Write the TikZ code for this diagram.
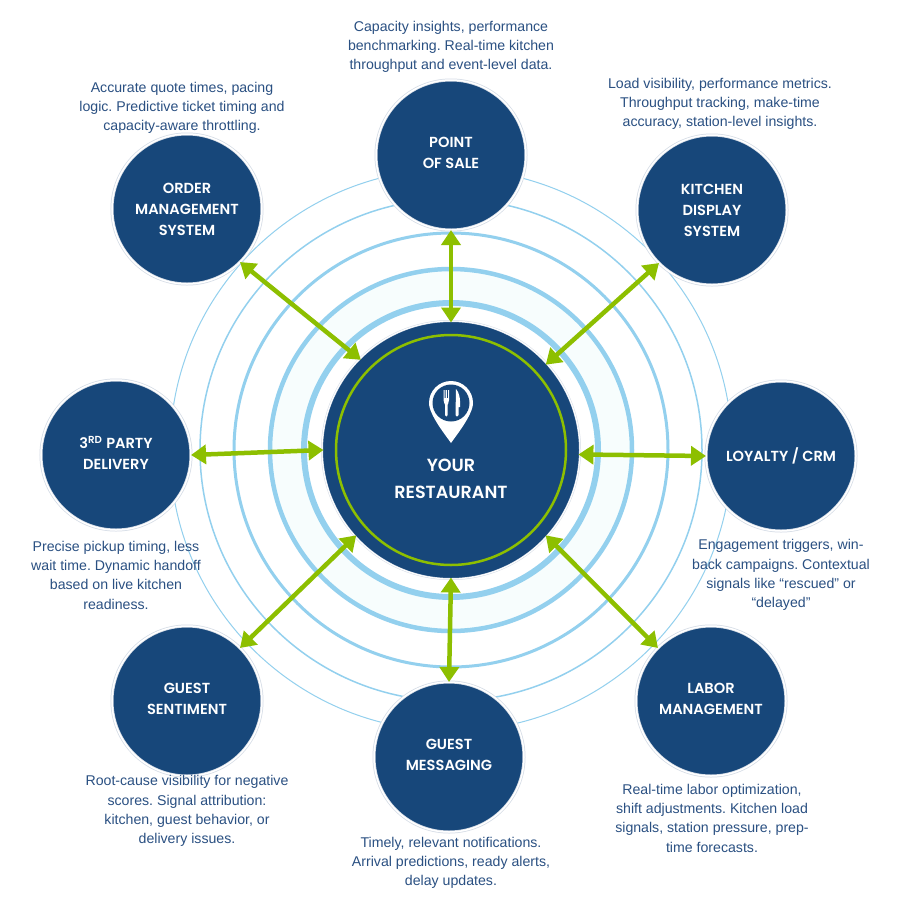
\documentclass[tikz,border=0pt]{standalone}
\usepackage{fontspec}
\usepackage{xcolor}
\usetikzlibrary{arrows.meta}
\setmainfont{Liberation Sans}
\newfontfamily\headfont{Poppins SemiBold}
\frenchspacing
\definecolor{navy}{HTML}{17477A}
\definecolor{inktext}{HTML}{2A5082}
\definecolor{ringblue}{HTML}{93D0EE}
\definecolor{tint}{HTML}{F7FDFD}
\definecolor{leaf}{HTML}{8DBF00}
\definecolor{edgegrey}{HTML}{D5DCE6}

\begin{document}
\begin{tikzpicture}[
    x=0.2mm, y=-0.2mm,
    sat/.style={circle, fill=navy, draw=edgegrey, line width=0.15mm, double=white, double distance=0.3mm, minimum size=30mm, inner sep=0pt, outer sep=0pt, align=center, text=white, font=\headfont\fontsize{8.3}{12}\selectfont},
    lift/.style={text depth=1mm},
    hub/.style={circle, fill=navy, draw=edgegrey, line width=0.1mm, double=white, double distance=0.2mm, minimum size=51.6mm, inner sep=0pt, outer sep=-0.3mm},
    hubtext/.style={text=white, align=center, font=\headfont\fontsize{10}{15}\selectfont},
    note/.style={text=inktext, align=center, inner sep=0pt, font=\fontsize{8.05}{11}\selectfont},
    ring/.style={draw=ringblue},
    link/.style={draw=leaf, line width=0.9mm, {Triangle[length=3mm,width=3.8mm]}-{Triangle[length=3mm,width=3.8mm]}}
]
    \useasboundingbox (0,0) rectangle (900,900);
    \fill[white] (0,0) rectangle (900,900);

    % Rings round the centre
    \fill[tint] (451,450) circle (181);
    \fill[white] (451,450) circle (147);
    \draw[ring, line width=0.2mm] (451,450) circle (281);
    \draw[ring, line width=0.3mm] (451,450) circle (251);
    \draw[ring, line width=0.6mm] (451,450) circle (217);
    \draw[ring, line width=0.9mm] (451,450) circle (181);
    \draw[ring, line width=1.2mm] (451,450) circle (147);

    % Centre
    \node[hub] (center) at (451,450) {};
    \draw[leaf, line width=0.5mm] (451,450) circle (115);
    \node[hubtext] (centertext) at (451,479) {YOUR\\RESTAURANT};

    % Pin icon
    \fill[white] (451,443) .. controls (447,437) and (429,415) .. (429,403) arc (180:360:22) .. controls (473,415) and (455,437) .. (451,443) -- cycle;
    \fill[navy] (451,403) circle (18.5);
    \fill[white] (443.5,390) -- (444.5,390) -- (444.5,398) -- (445.6,398) -- (445.6,390) -- (446.8,390) -- (446.8,398) -- (448,398) -- (448,390) -- (449,390) -- (449,400) .. controls (449,403) and (447.5,404) .. (447.5,405) -- (447.7,415) .. controls (447.7,417) and (445,417) .. (445,415) -- (445.2,405) .. controls (445.2,404) and (443.5,403) .. (443.5,400) -- cycle;
    \fill[white] (456,389) .. controls (459,392) and (460.5,398) .. (460,407) -- (458.5,407) -- (458.5,415) .. controls (458.5,417) and (455.5,417) .. (455.5,415) -- cycle;

    % Satellites
    \node[sat, lift] (pos) at (451,155) {POINT\\OF SALE};
    \node[sat] (kds) at (712,210) {KITCHEN\\DISPLAY\\SYSTEM};
    \node[sat] (crm) at (781,456) {LOYALTY / CRM};
    \node[sat, lift] (labor) at (711,701) {LABOR\\MANAGEMENT};
    \node[sat, lift] (msg) at (449,757) {GUEST\\MESSAGING};
    \node[sat, lift] (sentiment) at (187,701) {GUEST\\SENTIMENT};
    \node[sat, lift] (third) at (116,455) {3\textsuperscript{RD} PARTY\\DELIVERY};
    \node[sat] (oms) at (187,209) {ORDER\\MANAGEMENT\\SYSTEM};

    % Arrows
    \draw[link] (pos.270) -- (center.90);
    \draw[link] (kds.225) -- (center.42);
    \draw[link] (crm.180) -- (center.-2.7);
    \draw[link] (labor.135) -- (center.-42);
    \draw[link] (msg.90) -- (center.-90);
    \draw[link] (sentiment.45) -- (center.222);
    \draw[link] (third.0) -- (center.180);
    \draw[link] (oms.-45) -- (center.135);

    % Notes
    \node[note] (posnote) at (451,47) {Capacity insights, performance\\benchmarking. Real-time kitchen\\throughput and event-level data.};
    \node[note] (kdsnote) at (720,104) {Load visibility, performance metrics.\\Throughput tracking, make-time\\accuracy, station-level insights.};
    \node[note] (crmnote) at (781,575) {Engagement triggers, win-\\back campaigns. Contextual\\signals like “rescued” or\\“delayed”};
    \node[note] (labornote) at (712,818) {Real-time labor optimization,\\shift adjustments. Kitchen load\\signals, station pressure, prep-\\time forecasts.};
    \node[note] (msgnote) at (451,863) {Timely, relevant notifications.\\Arrival predictions, ready alerts,\\delay updates.};
    \node[note] (sentimentnote) at (187,811) {Root-cause visibility for negative\\scores. Signal attribution:\\kitchen, guest behavior, or\\delivery issues.};
    \node[note] (thirdnote) at (116,575) {Precise pickup timing, less\\wait time. Dynamic handoff\\based on live kitchen\\readiness.};
    \node[note] (omsnote) at (182,108) {Accurate quote times, pacing\\logic. Predictive ticket timing and\\capacity-aware throttling.};
\end{tikzpicture}
\end{document}
